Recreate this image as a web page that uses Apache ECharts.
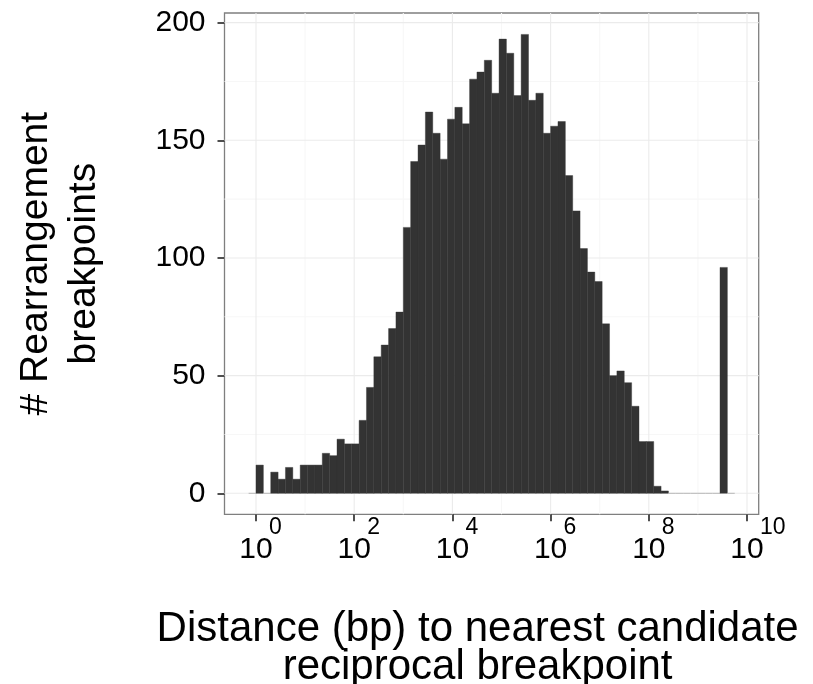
<!DOCTYPE html>
<html><head><meta charset="utf-8">
<script src="https://cdn.jsdelivr.net/npm/echarts@6/dist/echarts.min.js"></script>
<style>html,body{margin:0;padding:0;background:#fff}#c{width:813px;height:684px}</style>
</head><body><div id="c"></div>
<script>
// Histogram of log10(distance) : bins of 0.15 decades starting at -0.15
const binStart = -0.15;
const binWidth = 0.15;
const counts = [0, 12, 0, 9, 6, 11, 6, 12, 12, 12, 17, 16, 23, 21, 21, 31, 45, 58, 63, 70,
  77, 113, 141, 148, 162, 153, 142, 159, 164, 157, 176, 179, 184, 170, 193, 187, 169, 195, 167, 170,
  153, 156, 158, 135, 120, 104, 94, 90, 72, 50, 52, 47, 37, 22, 22, 3, 1,
  0, 0, 0, 0, 0, 0, 0, 96, 0];
const xMajor = [0, 2, 4, 6, 8, 10];
const xMinor = [1, 3, 5, 7, 9];
const yMajor = [0, 50, 100, 150, 200];
const yMinor = [25, 75, 125, 175];
const xTitle = 'Distance (bp) to nearest candidate\nreciprocal breakpoint';
const yTitle = '# Rearrangement\nbreakpoints';

const FONT = "'Liberation Sans', Arial, Helvetica, sans-serif";
const X_MIN = -0.6415, X_MAX = 10.238, Y_MIN = -8.92, Y_MAX = 204.1;

const binData = counts.map((c, i) => [binStart + i * binWidth, binStart + (i + 1) * binWidth, c]);

function gridLineSeries(vals, dir, color, name) {
  return {
    type: 'custom', name: name, silent: true, z: 1,
    data: vals.map(v => [v]),
    encode: dir === 'x' ? { x: 0 } : { y: 0 },
    renderItem: (params, api) => {
      const cs = params.coordSys;
      const v = api.value(0);
      if (dir === 'x') {
        const px = api.coord([v, 0])[0];
        return { type: 'line', shape: { x1: px, y1: cs.y, x2: px, y2: cs.y + cs.height },
          style: { stroke: color, lineWidth: 1.1 } };
      } else {
        const py = api.coord([0, v])[1];
        return { type: 'line', shape: { x1: cs.x, y1: py, x2: cs.x + cs.width, y2: py },
          style: { stroke: color, lineWidth: 1.1 } };
      }
    }
  };
}

const chart = echarts.init(document.getElementById('c'), null, { renderer: 'canvas' });
chart.setOption({
  backgroundColor: '#ffffff',
  animation: false,
  grid: { left: 224.5, top: 13, width: 534.2, height: 501.3, show: true,
    outerBoundsMode: 'none', containLabel: false,
    borderColor: '#7f7f7f', borderWidth: 1.3, backgroundColor: 'transparent' },
  xAxis: [{
    type: 'value', min: X_MIN, max: X_MAX,
    axisLine: { show: false, onZero: false },
    axisTick: { show: true, customValues: xMajor, length: 7, lineStyle: { color: '#222', width: 1.6 } },
    axisLabel: { customValues: xMajor, formatter: () => '10', fontSize: 30, lineHeight: 30,
      margin: 20, color: '#000', fontFamily: FONT },
    splitLine: { show: false },
    name: xTitle, nameLocation: 'middle', nameGap: 96,
    nameTextStyle: { fontSize: 42, lineHeight: 38, color: '#000', fontFamily: FONT, padding: [0, 28, 0, 0] }
  }, {
    type: 'value', min: X_MIN, max: X_MAX, position: 'bottom', gridIndex: 0,
    axisLine: { show: false, onZero: false }, axisTick: { show: false },
    axisLabel: { customValues: xMajor, formatter: v => String(v), fontSize: 23, lineHeight: 24,
      align: 'left', padding: [0, 0, 0, 13], margin: 1, color: '#000', fontFamily: FONT },
    splitLine: { show: false }
  }],
  yAxis: {
    type: 'value', min: Y_MIN, max: Y_MAX,
    axisLine: { show: false, onZero: false },
    axisTick: { show: true, customValues: yMajor, length: 7, lineStyle: { color: '#222', width: 1.6 } },
    axisLabel: { customValues: yMajor, fontSize: 30, margin: 19, color: '#000', fontFamily: FONT },
    splitLine: { show: false },
    name: yTitle, nameLocation: 'middle', nameRotate: 90, nameGap: 117,
    nameTextStyle: { fontSize: 39, lineHeight: 47.5, color: '#000', fontFamily: FONT }
  },
  series: [
    gridLineSeries(xMinor, 'x', '#f7f7f7', 'xminor'),
    gridLineSeries(yMinor, 'y', '#f7f7f7', 'yminor'),
    gridLineSeries(xMajor, 'x', '#ebebeb', 'xmajor'),
    gridLineSeries(yMajor, 'y', '#ebebeb', 'ymajor'),
    {
      type: 'custom', name: 'count', z: 2,
      data: binData,
      encode: { x: [0, 1], y: 2 },
      renderItem: (params, api) => {
        const x0 = api.value(0), x1 = api.value(1), c = api.value(2);
        const pTop = api.coord([x0, c]);
        const pBase = api.coord([x1, 0]);
        if (c === 0) {
          return { type: 'line', shape: { x1: pTop[0], y1: pBase[1], x2: pBase[0], y2: pBase[1] },
            style: { stroke: '#b8b8b8', lineWidth: 1 } };
        }
        return { type: 'rect',
          shape: { x: pTop[0], y: pTop[1], width: pBase[0] - pTop[0], height: pBase[1] - pTop[1] },
          style: { fill: '#333333', stroke: '#333333', lineWidth: 0.4 } };
      }
    }
  ]
});
</script></body></html>
